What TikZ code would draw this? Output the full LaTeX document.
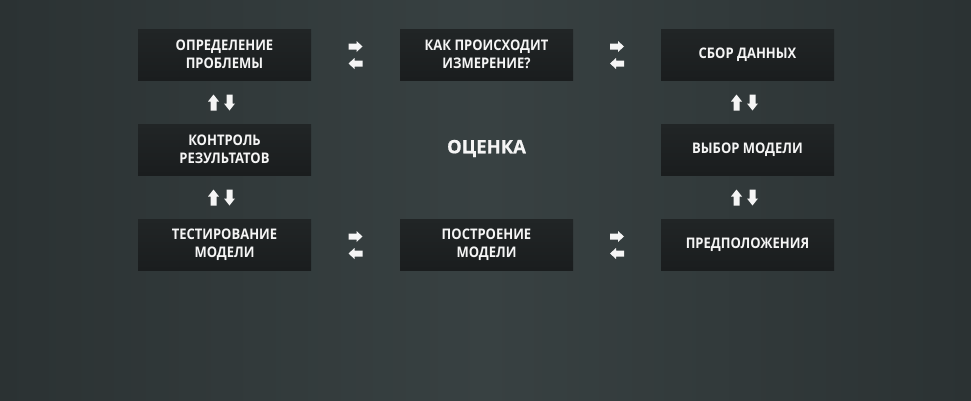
\documentclass[tikz,border=0pt]{standalone}
\usepackage{fontspec}
\setmainfont{Open Sans}[FakeStretch=0.89]
\newfontfamily\titlefont{Open Sans}[FakeBold=0.6]
\usetikzlibrary{calc}
\definecolor{bgmid}{HTML}{384142}
\definecolor{bgedge}{HTML}{2B3233}
\definecolor{boxtop}{HTML}{212526}
\definecolor{boxbot}{HTML}{1A1D1E}
\definecolor{txt}{HTML}{F5F5F5}
\tikzset{
  stepbox/.style={draw=none, top color=boxtop, bottom color=boxbot, minimum width=173pt, minimum height=51pt,
    inner sep=0pt, align=center, text=txt, font=\bfseries\fontsize{14.6}{17.5}\selectfont},
  titletext/.style={text=txt, font=\titlefont\bfseries\fontsize{18.5}{20}\selectfont},
  arrowpath/.style={fill=txt, draw=none},
  rarrow/.pic={\path[arrowpath] (-7,-3) -- (1,-3) -- (1,-5.5) -- (7,0) -- (1,5.5) -- (1,3) -- (-7,3) -- cycle;},
  larrow/.pic={\path[arrowpath] (7,-3) -- (-1,-3) -- (-1,-5.5) -- (-7,0) -- (-1,5.5) -- (-1,3) -- (7,3) -- cycle;},
  uarrow/.pic={\path[arrowpath] (-3,8) -- (-3,-1) -- (-5.5,-1) -- (0,-8) -- (5.5,-1) -- (3,-1) -- (3,8) -- cycle;},
  darrow/.pic={\path[arrowpath] (-3,-8) -- (-3,1) -- (-5.5,1) -- (0,8) -- (5.5,1) -- (3,1) -- (3,-8) -- cycle;},
}
\begin{document}
\begin{tikzpicture}[x=1pt,y=-1pt]
\useasboundingbox (0,0) rectangle (971,400);
\fill[left color=bgedge, right color=bgmid] (0,0) rectangle (486,400);
\fill[left color=bgmid, right color=bgedge] (485.5,0) rectangle (971,400);
% boxes
\node[stepbox] (b1) at (224.5,54.5) {ОПРЕДЕЛЕНИЕ\\ПРОБЛЕМЫ};
\node[stepbox] (b2) at (486.5,54.5) {КАК ПРОИСХОДИТ\\ИЗМЕРЕНИЕ?};
\node[stepbox] (b3) at (747.5,54.5) {СБОР ДАННЫХ};
\node[stepbox] (b4) at (747.5,149.5) {ВЫБОР МОДЕЛИ};
\node[stepbox] (b5) at (747.5,244.5) {ПРЕДПОЛОЖЕНИЯ};
\node[stepbox] (b6) at (486.5,244.5) {ПОСТРОЕНИЕ\\МОДЕЛИ};
\node[stepbox] (b7) at (224.5,244.5) {ТЕСТИРОВАНИЕ\\МОДЕЛИ};
\node[stepbox] (b8) at (224.5,149.5) {КОНТРОЛЬ\\РЕЗУЛЬТАТОВ};
\node[titletext] (title) at (486.5,148.5) {ОЦЕНКА};
% horizontal arrow pairs
\coordinate (h1) at ($(b1.east)!0.5!(b2.west)$);
\coordinate (h2) at ($(b2.east)!0.5!(b3.west)$);
\coordinate (h3) at ($(b7.east)!0.5!(b6.west)$);
\coordinate (h4) at ($(b6.east)!0.5!(b5.west)$);
\foreach \c in {h1,h2,h3,h4}{
  \pic at ($(\c)+(0,-8)$) {rarrow};
  \pic at ($(\c)+(0,9)$) {larrow};
}
% vertical arrow pairs
\coordinate (v1) at ($(b1.south)!0.5!(b8.north)+(-3,0.5)$);
\coordinate (v2) at ($(b8.south)!0.5!(b7.north)+(-3,0.5)$);
\coordinate (v3) at ($(b3.south)!0.5!(b4.north)+(-3,0.5)$);
\coordinate (v4) at ($(b4.south)!0.5!(b5.north)+(-3,0.5)$);
\foreach \c in {v1,v2,v3,v4}{
  \pic at ($(\c)+(-8,0)$) {uarrow};
  \pic at ($(\c)+(8,0)$) {darrow};
}
\end{tikzpicture}
\end{document}
